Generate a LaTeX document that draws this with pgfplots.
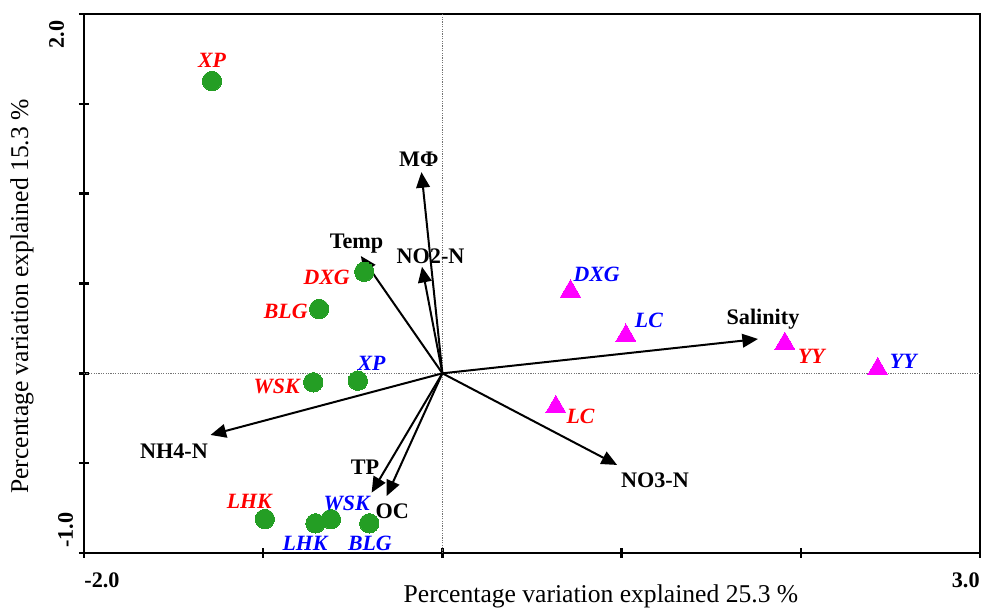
\documentclass[border=0pt]{standalone}
\usepackage{pgfplots}
\pgfplotsset{compat=1.18}
\usepackage{pgfplotstable}
\usepackage{fontspec}
\setmainfont{Liberation Serif}
\usetikzlibrary{arrows.meta}
\definecolor{ptgreen}{RGB}{36,158,36}
\definecolor{ptmag}{RGB}{255,0,255}
\definecolor{ptred}{RGB}{255,0,0}
\definecolor{ptblue}{RGB}{0,0,255}
\newcommand\envfont{\fontsize{11.1bp}{13bp}\selectfont\bfseries}
\newcommand\sitefont{\fontsize{10.9bp}{13bp}\selectfont\bfseries\itshape}
\newcommand\labfont{\fontsize{12.8bp}{15bp}\selectfont}

% green circles, red labels
\pgfplotstableread{
x y dx dy lab
-1.286 1.627 0 10.5 XP
-0.436 0.565 -18.8 -3 DXG
-0.688 0.358 -16.7 -1 BLG
-0.721 -0.050 -18.3 -2.2 WSK
-0.991 -0.811 -7.8 8.7 LHK
}\greenred
% green circles, blue labels
\pgfplotstableread{
x y dx dy lab
-0.472 -0.041 6.9 8.7 XP
-0.708 -0.835 -5.3 -10 LHK
-0.622 -0.812 7.8 7.7 WSK
-0.408 -0.835 0.3 -10 BLG
}\greenblue
% triangles, blue labels
\pgfplotstableread{
x y dx dy lab
0.715 0.457 13 8.6 DXG
1.024 0.210 11.5 7.8 LC
2.429 0.024 12.8 4 YY
}\magblue
% triangles, red labels
\pgfplotstableread{
x y dx dy lab
1.911 0.165 13.3 -6.2 YY
0.633 -0.187 12.3 -4.9 LC
}\magred
% environmental variable label positions
\pgfplotstableread{
x y lab
-0.131 1.191 MΦ
-0.066 0.649 NO2-N
-0.479 0.720 Temp
1.789 0.300 Salinity
1.186 -0.594 NO3-N
-1.498 -0.436 NH4-N
-0.432 -0.520 TP
-0.280 -0.765 OC
}\envlab

\pgfplotsset{
  site/.style={only marks, point meta=explicit symbolic, nodes near coords,
    visualization depends on={\thisrow{dx}\as\dx},
    visualization depends on={\thisrow{dy}\as\dy},
    every node near coord/.style={anchor=center, inner sep=0pt, xshift=\dx bp, yshift=\dy bp, font=\sitefont, text=#1}},
  gcirc/.style={mark=*, mark size=4.85bp, mark options={draw=ptgreen, fill=ptgreen, line width=0pt}},
  mtri/.style={mark=triangle*, mark size=5.8bp, mark options={draw=ptmag, fill=ptmag, line width=0pt}},
  envarrow/.style={black, line width=1bp, -{Triangle[length=7.8bp,width=6.8bp]}},
}

\begin{document}
\begin{tikzpicture}
\begin{axis}[
  name=ax,
  scale only axis,
  width=448bp, height=269.5bp,
  xmin=-2, xmax=3, ymin=-1, ymax=2,
  clip=false,
  axis line style={line width=1.2bp, black},
  tick style={line width=1.2bp, black},
  tick align=center,
  tick pos=left,
  major tick length=5bp,
  minor tick length=5bp,
  xtick={-2}, xticklabels={-2.0},
  minor xtick={-1,0,1,2},
  extra x ticks={3}, extra x tick labels={3.0},
  extra x tick style={xticklabel style={anchor=north east}},
  xticklabel style={font=\envfont, inner sep=0pt, anchor=north west, yshift=-7bp},
  ytick={-1}, yticklabels={-1.0},
  minor ytick={-0.5,0,0.5,1,1.5},
  extra y ticks={2}, extra y tick labels={2.0},
  yticklabel style={font=\envfont, inner sep=0pt, rotate=90, anchor=south west, xshift=2.5bp, yshift=2.75bp},
  extra y tick style={yticklabel style={anchor=south east, xshift=-5.5bp, yshift=4.5bp}},
  xlabel={Percentage variation explained 25.3 \%},
  ylabel={Percentage variation explained 15.3 \%},
  every axis x label/.style={at={(rel axis cs:0.577,0)}, yshift=-25bp, anchor=base, font=\labfont},
  every axis y label/.style={at={(rel axis cs:0,0.476)}, xshift=-28bp, rotate=90, anchor=base, font=\labfont},
]
% dotted zero lines
\addplot[black!55, line width=0.6bp, dash pattern=on 0.6bp off 0.6bp] coordinates {(0,-1) (0,2)};
\addplot[black!55, line width=0.6bp, dash pattern=on 0.6bp off 0.6bp] coordinates {(-2,0) (3,0)};

% environmental arrows
\addplot[envarrow] coordinates {(0,0) (-0.117,1.120)};
\addplot[envarrow] coordinates {(0,0) (-0.114,0.593)};
\addplot[envarrow] coordinates {(0,0) (-0.455,0.653)};
\addplot[envarrow] coordinates {(0,0) (1.761,0.191)};
\addplot[envarrow] coordinates {(0,0) (0.975,-0.510)};
\addplot[envarrow] coordinates {(0,0) (-1.294,-0.343)};
\addplot[envarrow] coordinates {(0,0) (-0.395,-0.664)};
\addplot[envarrow] coordinates {(0,0) (-0.311,-0.683)};

% environmental labels
\addplot[only marks, mark=*, mark size=0pt, mark options={draw=none, fill=none},
  point meta=explicit symbolic, nodes near coords,
  every node near coord/.style={anchor=center, inner sep=0pt, font=\envfont, text=black}]
  table[meta=lab]{\envlab};

% sites
\addplot[site=ptred, gcirc] table[meta=lab]{\greenred};
\addplot[site=ptblue, gcirc] table[meta=lab]{\greenblue};
\addplot[site=ptblue, mtri] table[meta=lab]{\magblue};
\addplot[site=ptred, mtri] table[meta=lab]{\magred};
\end{axis}
\path ([shift={(-42bp,-28bp)}]ax.south west) rectangle ([shift={(1bp,7bp)}]ax.north east);
\end{tikzpicture}
\end{document}
